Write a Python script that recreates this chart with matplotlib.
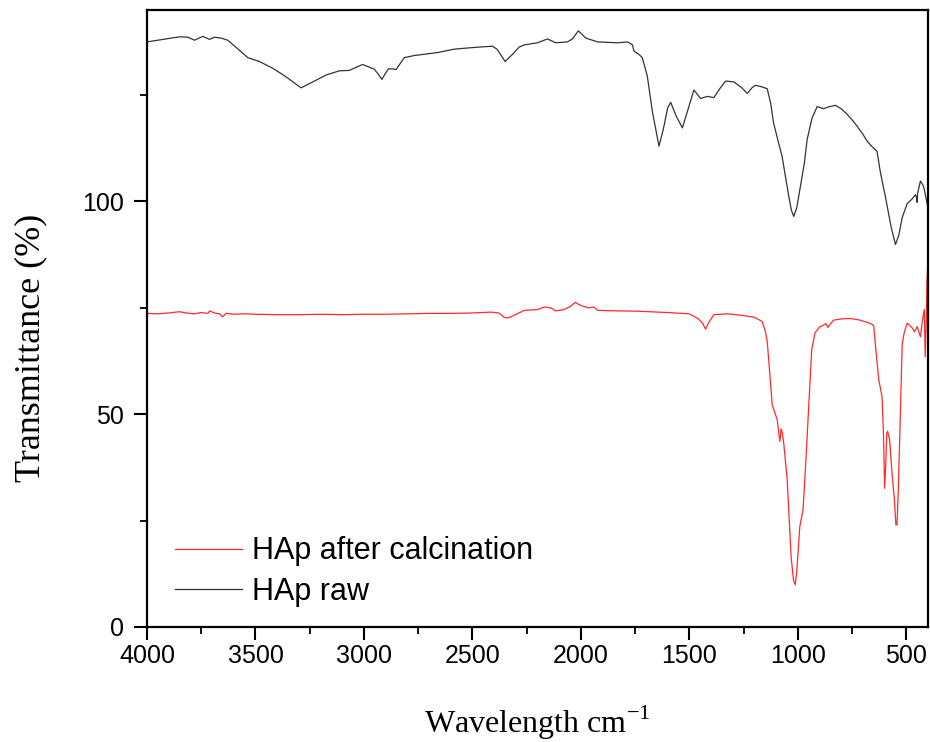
import matplotlib
matplotlib.use("Agg")
import matplotlib.pyplot as plt
from matplotlib.ticker import MultipleLocator

# HAp raw (black)
raw_wn = [4000, 3950, 3900, 3850, 3811, 3781, 3743, 3712, 3689, 3658, 3628, 3589, 3535, 3482,
          3420, 3359, 3290, 3236, 3175, 3114, 3068, 3006, 2953, 2935, 2917, 2900, 2886, 2860,
          2852, 2814, 2768, 2660, 2584, 2492, 2407, 2387, 2349, 2315, 2284, 2261, 2200, 2154,
          2116, 2062, 2039, 2012, 1977, 1923, 1831, 1785, 1762, 1756, 1731, 1717, 1694, 1670,
          1640, 1620, 1600, 1586, 1560, 1532, 1510, 1479, 1448, 1417, 1387, 1360, 1333, 1295,
          1260, 1233, 1210, 1195, 1170, 1141, 1125, 1112, 1090, 1073, 1042, 1030, 1019, 1005,
          988, 970, 957, 935, 911, 881, 860, 827, 800, 773, 750, 727, 700, 681, 660, 635, 620,
          597, 570, 550, 535, 519, 496, 475, 458, 452, 450, 448, 435, 425, 419, 410, 403]
raw_T = [137.5, 137.9, 138.3, 138.7, 138.6, 137.9, 138.8, 138.1, 138.6, 138.4, 137.9, 136.2,
         133.8, 132.9, 131.3, 129.3, 126.7, 128.1, 129.7, 130.7, 130.8, 132.2, 131.1, 130.0,
         128.7, 130.2, 131.2, 131.1, 131.0, 133.8, 134.3, 135.0, 135.8, 136.2, 136.5, 135.8,
         132.9, 134.6, 136.3, 136.8, 137.3, 138.2, 137.3, 137.5, 138.2, 140.1, 138.4, 137.5,
         137.3, 137.5, 136.8, 135.4, 134.5, 133.8, 129.5, 121.0, 113.0, 117.0, 122.0, 123.3,
         120.0, 117.3, 121.0, 126.2, 124.2, 124.7, 124.4, 126.5, 128.3, 128.1, 126.8, 125.4,
         126.8, 127.3, 127.0, 126.5, 123.0, 118.5, 114.0, 110.7, 101.3, 98.0, 96.5, 98.5,
         103.6, 109.0, 114.6, 119.5, 122.3, 121.8, 122.2, 122.6, 121.8, 120.5, 119.2, 117.7,
         115.8, 114.2, 113.0, 111.8, 107.0, 101.3, 94.0, 89.9, 92.0, 96.2, 99.5, 100.5, 101.6,
         100.8, 99.8, 101.9, 104.8, 104.0, 103.3, 101.0, 99.3]

# HAp after calcination (red)
cal_wn = [4000, 3950, 3900, 3850, 3820, 3780, 3750, 3720, 3710, 3690, 3665, 3652, 3635, 3600,
          3550, 3500, 3400, 3300, 3200, 3100, 3000, 2900, 2800, 2700, 2600, 2500, 2415, 2378,
          2354, 2340, 2323, 2290, 2261, 2200, 2169, 2139, 2116, 2077, 2046, 2026, 2010, 1992,
          1964, 1940, 1923, 1831, 1731, 1600, 1502, 1463, 1440, 1425, 1410, 1387, 1326, 1250,
          1202, 1164, 1150, 1141, 1130, 1118, 1095, 1083, 1077, 1073, 1065, 1049, 1031, 1020,
          1012, 1005, 991, 976, 962, 951, 936, 921, 900, 880, 870, 862, 856, 836, 800, 760,
          720, 681, 657, 650, 641, 627, 612, 605, 600, 595, 590, 586, 577, 566, 555, 548, 543,
          537, 531, 519, 510, 496, 473, 462, 450, 435, 423, 417, 413, 408, 405, 402]
cal_T = [73.7, 73.6, 73.8, 74.1, 73.8, 73.6, 73.9, 73.7, 74.3, 73.8, 73.6, 72.9, 73.7, 73.5,
         73.6, 73.5, 73.4, 73.4, 73.5, 73.4, 73.5, 73.5, 73.6, 73.7, 73.7, 73.8, 74.0, 73.8,
         72.8, 72.6, 72.9, 73.7, 74.4, 74.6, 75.2, 75.0, 74.3, 74.6, 75.4, 76.3, 75.8, 75.4,
         75.0, 75.2, 74.4, 74.3, 74.2, 73.9, 73.6, 72.6, 71.5, 70.0, 71.6, 73.4, 73.6, 73.2,
         72.8, 71.8, 69.5, 67.1, 60.0, 52.2, 48.7, 43.6, 46.5, 46.0, 43.2, 34.6, 16.5, 11.0,
         9.9, 13.0, 23.6, 27.5, 40.0, 50.7, 65.2, 69.1, 70.5, 71.0, 71.3, 70.4, 70.8, 72.1,
         72.4, 72.5, 72.2, 71.6, 71.1, 70.7, 65.5, 58.1, 54.2, 45.0, 32.6, 38.0, 45.5, 46.0,
         44.0, 36.2, 30.0, 24.0, 24.0, 32.0, 43.2, 66.4, 69.1, 71.4, 70.3, 69.4, 70.6, 68.2,
         73.0, 74.6, 63.5, 72.0, 81.0, 84.0]

x_ticks = [4000, 3500, 3000, 2500, 2000, 1500, 1000, 500]
y_ticks = [0, 50, 100]
labels = ["HAp after calcination", "HAp raw"]

fig = plt.figure(figsize=(9.3, 7.42), dpi=100)
ax = fig.add_axes([147/930, 1 - 627/742, 781/930, 617/742])

ax.plot(cal_wn, cal_T, color="#ff2a2a", lw=0.9, label=labels[0])
ax.plot(raw_wn, raw_T, color="#333333", lw=0.9, label=labels[1])

ax.set_xlim(4000, 400)
ax.set_ylim(0, 145)
ax.set_xticks(x_ticks)
ax.set_yticks(y_ticks)
ax.xaxis.set_minor_locator(MultipleLocator(250))
ax.yaxis.set_minor_locator(MultipleLocator(25))
ax.tick_params(which="major", direction="out", length=9.5, width=1.5,
               labelsize=18, top=False, right=False)
ax.tick_params(which="minor", direction="out", length=5, width=1.3, top=False, right=False)
ax.tick_params(axis="x", which="major", pad=2.5)
ax.tick_params(axis="y", which="major", pad=7)
for lab in ax.get_xticklabels() + ax.get_yticklabels():
    lab.set_fontfamily("Liberation Sans")
for s in ax.spines.values():
    s.set_linewidth(1.6)

ax.set_xlabel(r"Wavelength cm$^{\mathregular{-1}}$", fontfamily="Liberation Serif", fontsize=23)
ax.set_ylabel("Transmittance (%)", fontfamily="Liberation Serif", fontsize=26)
ax.xaxis.set_label_coords(0.5, -0.124)
ax.yaxis.set_label_coords(-0.128, 0.452)

leg = ax.legend(loc="lower left", bbox_to_anchor=(0.0, -0.012), frameon=False,
                prop={"family": "Liberation Sans", "size": 22}, handlelength=2.2,
                handletextpad=0.33, labelspacing=0.35)

fig.savefig("out.png", dpi=100)
